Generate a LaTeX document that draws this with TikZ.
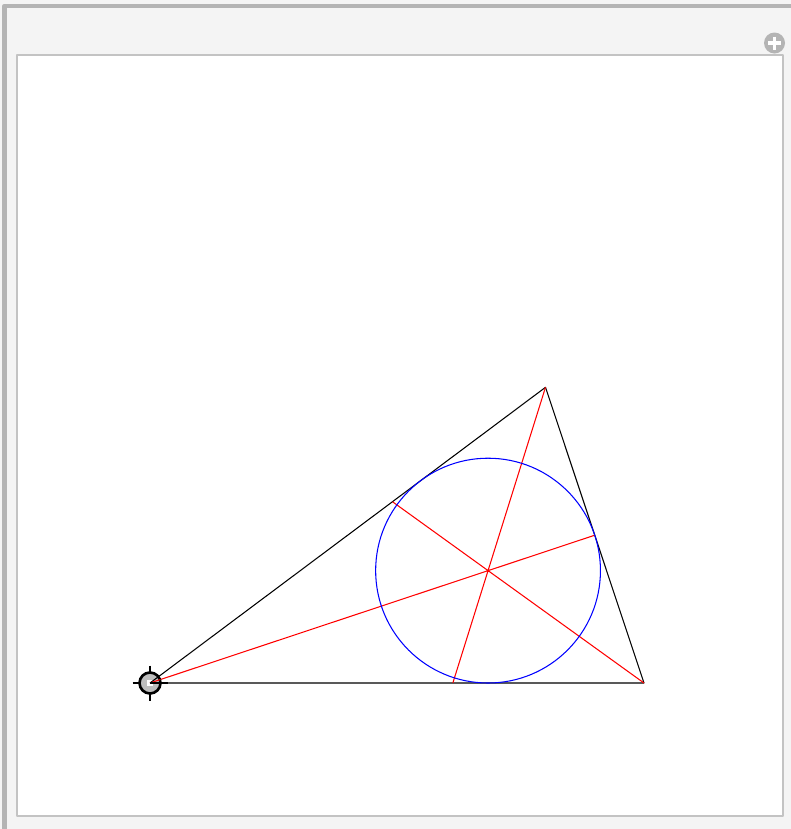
\documentclass[tikz,border=0pt]{standalone}
\usepackage{tikz}
\usetikzlibrary{calc}

\definecolor{panelgray}{RGB}{244,244,244}
\definecolor{frameline}{RGB}{180,180,180}
\definecolor{innerline}{RGB}{195,195,195}
\definecolor{locfill}{RGB}{190,190,190}

\begin{document}
\begin{tikzpicture}[x=0.02cm,y=-0.02cm,line join=round]
    \useasboundingbox (0,0) rectangle (791,829);

    % panel and plot frame
    \fill[panelgray] (0,0) rectangle (791,829);
    \draw[frameline,line width=2.5pt] (4.5,840) -- (4.5,6) -- (800,6);
    \draw[innerline,line width=1.2pt,fill=white] (17,55) rectangle (783,816);
    \fill[frameline] (774.5,43) circle (10.5);
    \draw[white,line width=2pt] (768,43) -- (781,43) (774.5,36.5) -- (774.5,49.5);

    % triangle
    \coordinate (A) at (150,683);
    \coordinate (B) at (644,683);
    \coordinate (C) at (545.5,387.3);
    \coordinate (I) at (barycentric cs:A=0.2399,B=0.38,C=0.3801);
    \coordinate (D) at (intersection of A--I and B--C);
    \coordinate (E) at (intersection of B--I and A--C);
    \coordinate (F) at (intersection of C--I and A--B);

    \draw[black,line width=0.6pt] (A) -- (B) -- (C) -- cycle;
    \draw[red,line width=0.6pt] (A) -- (D) (B) -- (E) (C) -- (F);
    \draw[blue,line width=0.6pt] (I) circle (112.4);

    % locator
    \draw[black,line width=1.4pt] ($(A)+(-17.5,0)$) -- ($(A)+(17.5,0)$)
      ($(A)+(0,-17.5)$) -- ($(A)+(0,17.5)$);
    \draw[black,line width=1.5pt,fill=locfill] (A) circle (10.5);
    \fill[white] ($(A)+(-3,-3)$) rectangle ($(A)+(3,3)$);
    \draw[black,line width=0.6pt] (A) -- ($(A)!0.22cm!(C)$);
    \draw[red,line width=0.6pt] (A) -- ($(A)!0.22cm!(D)$);
    \draw[black,line width=0.6pt] (A) -- ($(A)!0.22cm!(B)$);
\end{tikzpicture}
\end{document}
